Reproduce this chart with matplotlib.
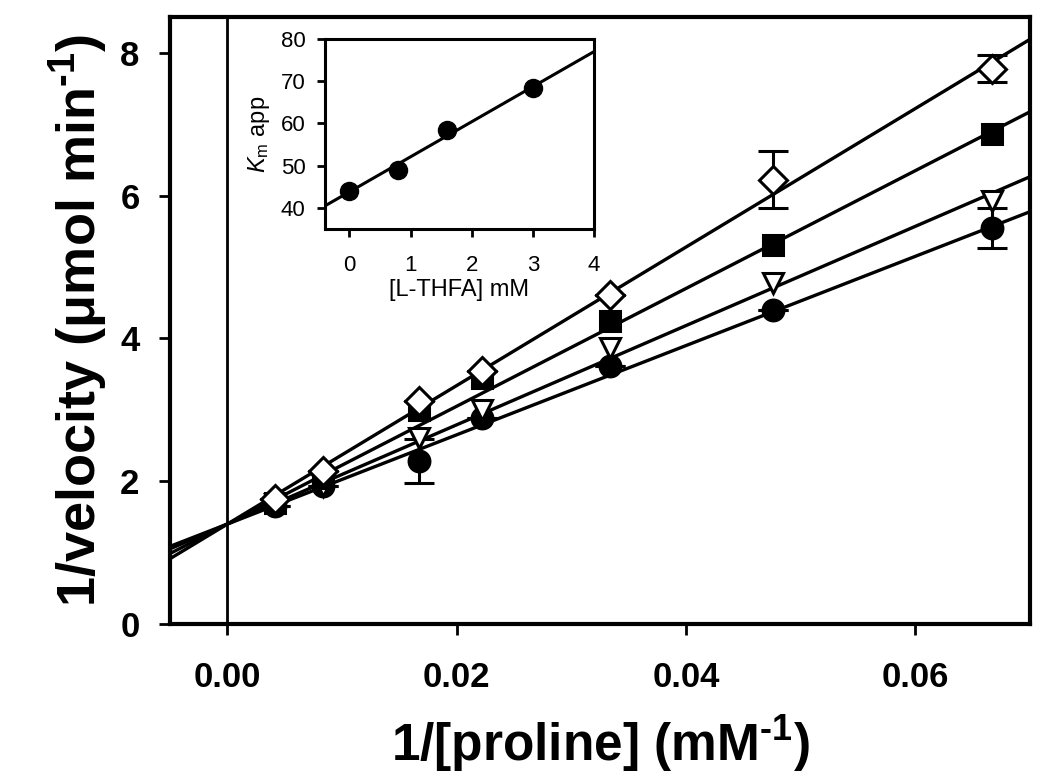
import matplotlib
matplotlib.use("Agg")
import matplotlib.pyplot as plt
import numpy as np

FONT = "Liberation Sans"
plt.rcParams.update({
    "mathtext.fontset": "custom",
    "mathtext.rm": "Liberation Sans:bold",
    "mathtext.bf": "Liberation Sans:bold",
    "mathtext.it": "Liberation Sans:italic",
    "mathtext.sf": "Liberation Sans",
})

# 1/[proline] values (mM^-1)
inv_proline = [0.00417, 0.00833, 0.01667, 0.02222, 0.03333, 0.04762, 0.06667]

# 1/velocity for each L-THFA concentration
v_circle = [1.65, 1.93, 2.28, 2.88, 3.61, 4.40, 5.54]
v_triangle = [1.68, 1.93, 2.60, 3.00, 3.86, 4.77, 5.92]
v_square = [1.70, 2.05, 3.00, 3.44, 4.24, 5.31, 6.87]
v_diamond = [1.75, 2.14, 3.12, 3.54, 4.61, 6.22, 7.78]

err_circle = [0, 0, 0.31, 0, 0, 0, 0.28]
err_diamond = [0, 0, 0, 0, 0, 0.40, 0.19]

# global fit: shared intercept, one slope per series
fit_intercept = 1.4
fit_slopes = [62.5, 69.5, 82.5, 97.0]

# inset: apparent Km vs [L-THFA]
thfa = [0.0, 0.8, 1.6, 3.0]
km_app = [44.0, 49.0, 58.5, 68.5]
km_fit = (43.8, 8.3)  # intercept, slope

fig = plt.figure(figsize=(10.5, 7.79), dpi=100)
ax = fig.add_axes([0.162, 0.199, 0.819, 0.779])

xlim = (-0.005, 0.07)
xx = np.array(xlim)
for s in fit_slopes:
    ax.plot(xx, fit_intercept + s * xx, color="black", lw=2.4, zorder=2)

ax.axvline(0, color="black", lw=2.0, zorder=1)

mk = dict(color="black", markeredgecolor="black", markeredgewidth=2.2,
          ls="none", ecolor="black", elinewidth=2.2, capsize=11, capthick=2.2, zorder=3)
ax.errorbar(inv_proline, v_circle, yerr=err_circle, marker="o", markersize=15,
            markerfacecolor="black", **mk)
ax.errorbar(inv_proline, v_triangle, marker="v", markersize=15,
            markerfacecolor="white", **mk)
ax.errorbar(inv_proline, v_square, marker="s", markersize=14,
            markerfacecolor="black", **mk)
ax.errorbar(inv_proline, v_diamond, yerr=err_diamond, marker="D", markersize=14,
            markerfacecolor="white", **mk)

ax.set_xlim(*xlim)
ax.set_ylim(0, 8.5)
ax.set_xticks([0.0, 0.02, 0.04, 0.06])
ax.set_xticklabels(["0.00", "0.02", "0.04", "0.06"])
ax.set_yticks([0, 2, 4, 6, 8])
for sp in ax.spines.values():
    sp.set_linewidth(3)
ax.tick_params(direction="out", length=8, width=2, pad=14)
ax.tick_params(axis="x", pad=19)
for lab in ax.get_xticklabels() + ax.get_yticklabels():
    lab.set_fontfamily(FONT)
    lab.set_fontweight("bold")
    lab.set_fontsize(25)

ax.set_xlabel(r"1/[proline] (mM$^{\text{-1}}$)", fontfamily=FONT,
              fontweight="bold", fontsize=37, labelpad=14)
ax.set_ylabel("1/velocity (\u03bcmol min$^{\\text{-1}}$)", fontfamily=FONT,
              fontweight="bold", fontsize=39, labelpad=7)

# inset
ins = fig.add_axes([0.3095, 0.706, 0.2562, 0.244])
ins.plot(thfa, km_app, ls="none", marker="o", markersize=13, color="black", zorder=3)
ix = np.array([-0.4, 4.0])
ins.plot(ix, km_fit[0] + km_fit[1] * ix, color="black", lw=2.2)
ins.set_xlim(-0.4, 4)
ins.set_ylim(35, 80)
ins.set_xticks([0, 1, 2, 3, 4])
ins.set_yticks([40, 50, 60, 70, 80])
for sp in ins.spines.values():
    sp.set_linewidth(2.2)
ins.tick_params(direction="out", length=6, width=2, labelsize=16, pad=8)
ins.tick_params(axis="x", pad=13)
for lab in ins.get_xticklabels() + ins.get_yticklabels():
    lab.set_fontfamily(FONT)
ins.set_xlabel("[L-THFA] mM", fontfamily=FONT, fontsize=17, labelpad=2)
ins.set_ylabel(r"$\mathit{K}_{\mathsf{m}}$ app", fontfamily=FONT, fontsize=17, labelpad=6)

fig.savefig("out.png", dpi=100)
